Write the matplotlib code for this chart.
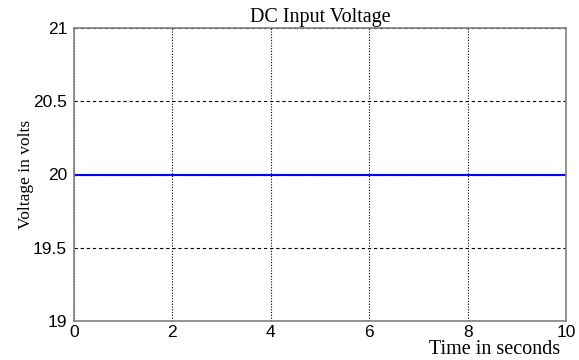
import numpy as np
import matplotlib.pyplot as plt

t = [0, 10]
v = [20, 20]
xticks = [0, 2, 4, 6, 8, 10]
yticks = [19, 19.5, 20, 20.5, 21]
ytick_labels = ["19", "19.5", "20", "20.5", "21"]

fig = plt.figure(figsize=(5.79, 3.6), dpi=100)
ax = fig.add_axes([74 / 579, 39 / 360, 492 / 579, 293 / 360])
ax.plot(t, v, color="#0000ff", linewidth=1.5)
ax.set_xlim(0, 10)
ax.set_ylim(19, 21)
ax.set_xticks(xticks)
ax.set_yticks(yticks)
ax.set_yticklabels(ytick_labels)
for tick in ax.get_xticklabels() + ax.get_yticklabels():
    tick.set_family("Liberation Sans")
    tick.set_fontsize(12.5)
ax.tick_params(axis="x", length=0, pad=3)
ax.tick_params(axis="y", length=0, pad=5)
ax.xaxis.grid(True, color="black", linestyle=(0, (1, 1.5)), linewidth=0.8)
ax.yaxis.grid(True, color="black", linestyle=(0, (3, 2.5)), linewidth=0.8)
for s in ax.spines.values():
    s.set_color("#808080")
    s.set_linewidth(1.2)

ax.set_title("DC Input Voltage", family="Liberation Serif", fontsize=14.5, pad=4)
ax.set_ylabel("Voltage in volts", family="Liberation Serif", fontsize=12.5)
ax.yaxis.set_label_coords(-40 / 492, 0.5)
fig.text(560 / 579, 1 - 349 / 360, "Time in seconds", family="Liberation Serif",
         fontsize=14.5, ha="right", va="center")

fig.savefig("out.png", dpi=100)
